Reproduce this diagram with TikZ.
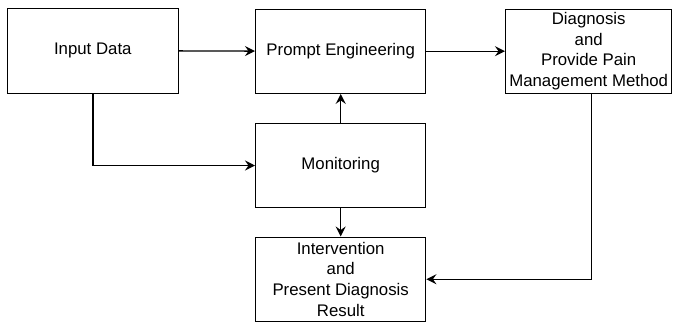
\documentclass[tikz,border=0pt]{standalone}
\usepackage{fontspec}
\setmainfont{Liberation Sans}
\usetikzlibrary{arrows.meta}
\begin{document}
\begin{tikzpicture}[x=1pt,y=-1pt,
  box/.style={draw=black, line width=1.4pt, fill=white, align=center, inner sep=0pt,
    font=\fontsize{16.8}{20.6}\selectfont},
  conn/.style={draw=black, line width=1.4pt, -{Stealth[length=10pt,width=10pt,inset=3.5pt]}}]
\useasboundingbox (0,0) rectangle (673,325);
\node[box, minimum width=171pt, minimum height=85pt] (in) at (92.8,50.8) {Input Data};
\node[box, minimum width=170pt, minimum height=84pt] (pe) at (340.7,51.2) {Prompt Engineering};
\node[box, minimum width=166pt, minimum height=84pt] (dg) at (588.7,51.2) {\raisebox{0pt}[\height][\depth]{}Diagnosis\\and\\Provide Pain\\Management Method};
\node[box, minimum width=170pt, minimum height=84pt] (mo) at (340.7,165.5) {Monitoring};
\node[box, minimum width=170pt, minimum height=84pt] (iv) at (340.7,279.2) {Intervention\\and\\Present Diagnosis\\Result};
\draw[conn] (in) -- (pe);
\draw[conn] (pe) -- (dg);
\draw[conn] (in.south) |- (mo.west);
\draw[conn] (mo) -- (pe);
\draw[conn] (mo) -- (iv);
\coordinate (dgx) at (591.7,93.2);
\draw[conn] (dgx) |- (iv.east);
\end{tikzpicture}
\end{document}
